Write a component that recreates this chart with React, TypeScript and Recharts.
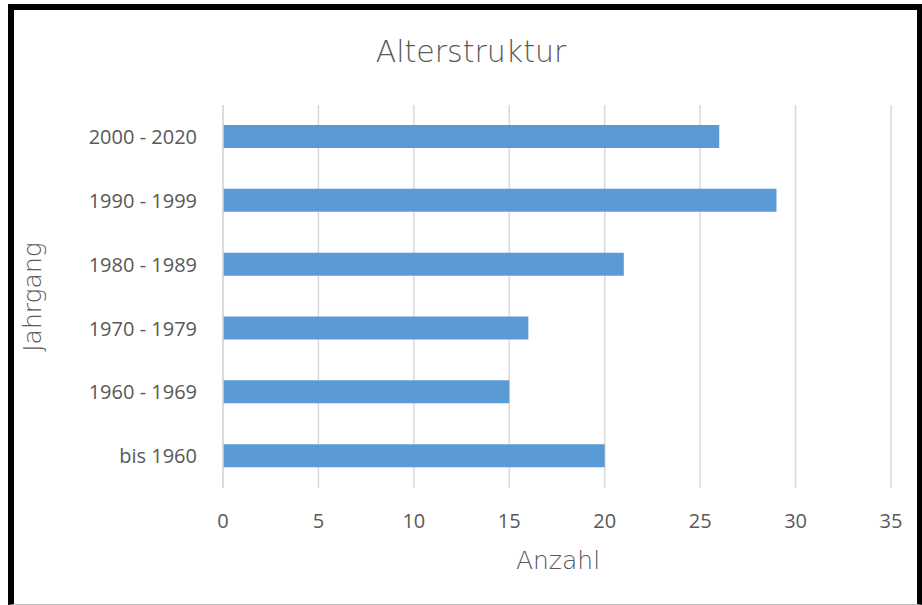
import { BarChart, Bar, XAxis, YAxis, CartesianGrid } from 'recharts';

const categories = ['2000 - 2020', '1990 - 1999', '1980 - 1989', '1970 - 1979', '1960 - 1969', 'bis 1960'];
const counts = [26, 29, 21, 16, 15, 20];
const xTicks = [0, 5, 10, 15, 20, 25, 30, 35];

const data = categories.map((name, i) => ({ name, anzahl: counts[i] }));

const GREY = '#595959';
const TITLE_FONT = '"DejaVu Sans", sans-serif';
const TICK_FONT = '"Open Sans", sans-serif';

export default function App() {
  return (
    <div style={{ position: 'absolute', left: 0, top: 0, width: 922, height: 605, background: '#fff' }}>
      <div
        style={{
          position: 'absolute',
          left: 8,
          top: 4,
          width: 922 - 8 - 6 - 5,
          height: 605 - 4 - 6 - 1,
          borderTop: '6px solid #000',
          borderLeft: '6px solid #000',
          borderRight: '6px solid #000',
          borderBottom: '1px solid #bfbfbf',
        }}
      />
      <div
        style={{
          position: 'absolute',
          left: 0,
          width: 922,
          top: 32,
          paddingLeft: 20,
          boxSizing: 'border-box',
          textAlign: 'center',
          fontFamily: TITLE_FONT,
          fontWeight: 200,
          fontSize: 30,
          color: GREY,
          lineHeight: '40px',
        }}
      >
        Alterstruktur
      </div>
      <div
        style={{
          position: 'absolute',
          left: 32,
          top: 297,
          transform: 'translate(-50%, -50%) rotate(-90deg)',
          fontFamily: TITLE_FONT,
          fontWeight: 200,
          fontSize: 25,
          color: GREY,
          whiteSpace: 'nowrap',
        }}
      >
        Jahrgang
      </div>
      <div
        style={{
          position: 'absolute',
          left: 0,
          width: 922,
          top: 545,
          paddingLeft: 194,
          boxSizing: 'border-box',
          textAlign: 'center',
          fontFamily: TITLE_FONT,
          fontWeight: 200,
          fontSize: 25,
          color: GREY,
          lineHeight: '32px',
        }}
      >
        Anzahl
      </div>
      <div style={{ position: 'absolute', left: 0, top: 0 }}>
        <BarChart
          width={922}
          height={605}
          data={data}
          layout="vertical"
          margin={{ top: 105, right: 31, bottom: 0, left: 0 }}
          barCategoryGap={20}
        >
          <CartesianGrid horizontal={false} stroke="#d9d9d9" strokeWidth={1.5} />
          <XAxis
            type="number"
            domain={[0, 35]}
            ticks={xTicks}
            axisLine={false}
            tickLine={false}
            tickMargin={20}
            height={117}
            tick={{ fill: GREY, fontSize: 20, fontFamily: TICK_FONT }}
          />
          <YAxis
            type="category"
            dataKey="name"
            width={223}
            axisLine={{ stroke: '#d9d9d9', strokeWidth: 1.5 }}
            tickLine={false}
            tickMargin={20}
            tick={{ fill: GREY, fontSize: 20, fontFamily: TICK_FONT }}
          />
          <Bar dataKey="anzahl" fill="#5b9bd5" barSize={23} isAnimationActive={false} />
        </BarChart>
      </div>
    </div>
  );
}
